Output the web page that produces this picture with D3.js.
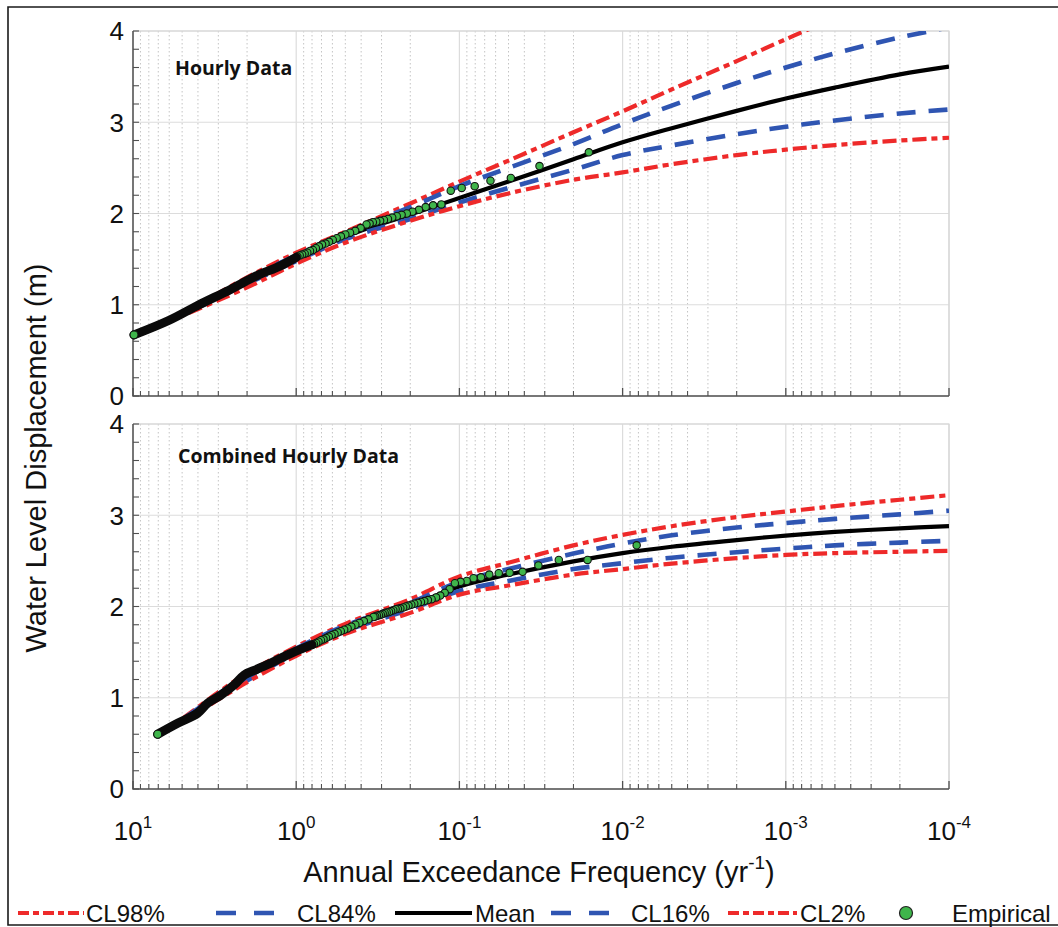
<!DOCTYPE html>
<html>
<head>
<meta charset="utf-8">
<script src="https://cdn.jsdelivr.net/npm/d3@7"></script>
<style>
  body { margin: 0; background: #fff; }
  svg { display: block; }
  text { font-family: "Liberation Sans", Arial, sans-serif; fill: #111; }
</style>
</head>
<body>
<svg id="fig" width="1058" height="927"></svg>
<script>
// ------------------------------------------------------------------
// Fitted return-level curves (annual exceedance frequency, yr^-1 -> m)
// ------------------------------------------------------------------
const topFreq   = [10, 5, 2, 1, 0.5, 0.2, 0.1, 0.05, 0.02, 0.01, 0.005, 0.002, 0.001, 0.0005, 0.0002, 0.0001];
const topMean   = [0.67, 0.90, 1.26, 1.51, 1.75, 1.99, 2.17, 2.35, 2.595, 2.78, 2.935, 3.125, 3.26, 3.38, 3.525, 3.61];
const topCL84   = [0.67, 0.90, 1.28, 1.54, 1.78, 2.07, 2.30, 2.50, 2.76, 2.98, 3.183, 3.43, 3.60, 3.755, 3.93, 4.04];
const topCL16   = [0.67, 0.89, 1.23, 1.48, 1.72, 1.94, 2.12, 2.28, 2.48, 2.64, 2.746, 2.87, 2.95, 3.02, 3.096, 3.14];
const topCL2    = [0.67, 0.88, 1.19, 1.45, 1.68, 1.92, 2.08, 2.22, 2.37, 2.45, 2.54, 2.64, 2.70, 2.75, 2.80, 2.83];
const topCL98Freq = [10, 5, 2, 1, 0.5, 0.2, 0.1, 0.05, 0.02, 0.01, 0.005, 0.002, 0.001, 0.0007];
const topCL98   = [0.67, 0.91, 1.30, 1.57, 1.80, 2.11, 2.35, 2.58, 2.89, 3.12, 3.36, 3.67, 3.91, 4.03];

const botFreq   = [7, 5, 3, 2, 1, 0.5, 0.2, 0.1, 0.05, 0.02, 0.01, 0.005, 0.002, 0.001, 0.0005, 0.0002, 0.0001];
const botMean   = [0.60, 0.75, 1.02, 1.22, 1.51, 1.76, 2.00, 2.22, 2.35, 2.495, 2.585, 2.655, 2.728, 2.777, 2.817, 2.857, 2.88];
const botCL98   = [0.60, 0.77, 1.06, 1.27, 1.56, 1.81, 2.08, 2.33, 2.48, 2.67, 2.785, 2.88, 2.98, 3.04, 3.10, 3.17, 3.22];
const botCL84   = [0.60, 0.76, 1.04, 1.25, 1.54, 1.79, 2.04, 2.27, 2.41, 2.58, 2.69, 2.78, 2.865, 2.915, 2.96, 3.01, 3.05];
const botCL16   = [0.60, 0.74, 1.00, 1.19, 1.49, 1.73, 1.97, 2.17, 2.28, 2.41, 2.475, 2.535, 2.595, 2.635, 2.67, 2.70, 2.72];
const botCL2    = [0.60, 0.73, 0.98, 1.17, 1.46, 1.70, 1.93, 2.13, 2.23, 2.35, 2.41, 2.47, 2.53, 2.565, 2.585, 2.60, 2.61];

// ------------------------------------------------------------------
// Empirical exceedances (individually visible markers)
// ------------------------------------------------------------------
const empTopFreq  = [0.0161, 0.0323, 0.0484, 0.0645, 0.0806, 0.0968, 0.113, 0.129, 0.145, 0.161, 0.177,
                     0.194, 0.210, 0.226, 0.242, 0.258, 0.274, 0.290, 0.306, 0.323, 0.339, 0.355,
                     0.371, 0.403, 0.435, 0.468, 0.5, 0.532, 0.565, 0.597, 0.629, 0.661, 0.694,
                     0.726, 0.758, 0.79, 0.823, 0.855, 0.887, 0.919, 0.952, 0.984];
const empTopLevel = [2.67, 2.52, 2.39, 2.36, 2.30, 2.28, 2.25, 2.10, 2.09, 2.07, 2.04,
                     2.02, 2.00, 1.985, 1.97, 1.955, 1.94, 1.93, 1.92, 1.91, 1.905, 1.89,
                     1.88, 1.84, 1.81, 1.79, 1.77, 1.75, 1.73, 1.71, 1.69, 1.67, 1.66,
                     1.64, 1.62, 1.60, 1.59, 1.57, 1.56, 1.55, 1.54, 1.53];

const empBotFreq  = [0.0082, 0.0164, 0.0246, 0.0328, 0.041, 0.0492, 0.0574, 0.0656, 0.0738, 0.082,
                     0.0902, 0.0984, 0.1066, 0.1148, 0.123, 0.131, 0.139, 0.148, 0.156, 0.164,
                     0.172, 0.180, 0.189, 0.197, 0.205, 0.213, 0.221, 0.230, 0.238, 0.246,
                     0.254, 0.262, 0.270, 0.279, 0.287, 0.295, 0.303, 0.311, 0.320, 0.328,
                     0.336, 0.361, 0.385, 0.41, 0.434, 0.459, 0.484, 0.508, 0.533, 0.557,
                     0.582, 0.607, 0.631, 0.656, 0.68, 0.705, 0.73, 0.754, 0.779, 0.803];
const empBotLevel = [2.67, 2.51, 2.51, 2.45, 2.38, 2.37, 2.365, 2.35, 2.32, 2.31,
                     2.28, 2.27, 2.255, 2.19, 2.15, 2.12, 2.10, 2.08, 2.07, 2.06,
                     2.05, 2.04, 2.03, 2.02, 2.01, 2.00, 1.99, 1.98, 1.975, 1.97,
                     1.96, 1.95, 1.94, 1.935, 1.93, 1.92, 1.91, 1.905, 1.90, 1.89,
                     1.885, 1.86, 1.84, 1.82, 1.80, 1.78, 1.76, 1.745, 1.73, 1.715,
                     1.70, 1.685, 1.67, 1.655, 1.64, 1.63, 1.615, 1.60, 1.59, 1.58];

// Frequent events: markers so tightly packed that their outlines merge
const bandTopFreq  = [1.0, 1.27, 1.69, 2.58, 3.94, 6.0, 9.86];
const bandTopLevel = [1.52, 1.42, 1.33, 1.16, 1.00, 0.83, 0.67];
const bandBotFreq  = [0.80, 0.89, 1.13, 1.43, 1.81, 2.08, 2.40, 2.89, 3.49, 4.02, 5.33, 7.06];
const bandBotLevel = [1.58, 1.55, 1.47, 1.38, 1.30, 1.25, 1.14, 1.03, 0.94, 0.83, 0.72, 0.60];

// Axis ticks
const xMajorTicks = [10, 1, 0.1, 0.01, 0.001, 0.0001];
const xTickExp    = ["1", "0", "-1", "-2", "-3", "-4"];
const yMajorTicks = [0, 1, 2, 3, 4];

const seriesNames = ["CL98%", "CL84%", "Mean", "CL16%", "CL2%", "Empirical"];

// ------------------------------------------------------------------
const RED = "#ee2a2a", BLUE = "#2f55b2", BLACK = "#000", GREEN = "#3fb54b";
const styles = {
  "CL98%": { color: RED,   width: 4.2, dash: "14,5,6,5" },
  "CL84%": { color: BLUE,  width: 4.6, dash: "19,13" },
  "Mean":  { color: BLACK, width: 4.2, dash: null },
  "CL16%": { color: BLUE,  width: 4.6, dash: "19,13" },
  "CL2%":  { color: RED,   width: 4.2, dash: "14,5,6,5" }
};

const svg = d3.select("#fig");
const X0 = 133, X1 = 949;
const x = d3.scaleLog().domain([10, 1e-4]).range([X0, X1]);

// outer frame
svg.append("path")
  .attr("d", "M1058,7 H8 V925 H1058")
  .attr("fill", "none").attr("stroke", "#1a1a1a").attr("stroke-width", 1.6);

const panels = [
  { top: 31, bottom: 396, title: "Hourly Data", tx: 175, ty: 75, showX: false,
    curves: [
      ["CL98%", topCL98Freq, topCL98], ["CL84%", topFreq, topCL84], ["Mean", topFreq, topMean],
      ["CL16%", topFreq, topCL16], ["CL2%", topFreq, topCL2]],
    empF: empTopFreq, empV: empTopLevel, bandF: bandTopFreq, bandV: bandTopLevel },
  { top: 424, bottom: 789, title: "Combined Hourly Data", tx: 178, ty: 463, showX: true,
    curves: [
      ["CL98%", botFreq, botCL98], ["CL84%", botFreq, botCL84], ["Mean", botFreq, botMean],
      ["CL16%", botFreq, botCL16], ["CL2%", botFreq, botCL2]],
    empF: empBotFreq, empV: empBotLevel, bandF: bandBotFreq, bandV: bandBotLevel }
];

const minorX = x.ticks().filter(v => !xMajorTicks.some(m => Math.abs(Math.log10(v) - Math.log10(m)) < 1e-6));
const minorY = d3.range(0, 4.0001, 0.2);

panels.forEach((p, i) => {
  const y = d3.scaleLinear().domain([0, 4]).range([p.bottom, p.top]);
  const g = svg.append("g");

  // clip region
  const clipId = "clip" + i;
  svg.append("clipPath").attr("id", clipId)
    .append("rect").attr("x", X0).attr("y", p.top).attr("width", X1 - X0).attr("height", p.bottom - p.top);

  // grid
  g.append("g").selectAll("line").data(minorX).join("line")
    .attr("x1", d => x(d)).attr("x2", d => x(d)).attr("y1", p.top).attr("y2", p.bottom)
    .attr("stroke", "#c4c4c4").attr("stroke-width", 1).attr("stroke-dasharray", "1.5,2.5");
  g.append("g").selectAll("line").data(xMajorTicks).join("line")
    .attr("x1", d => x(d)).attr("x2", d => x(d)).attr("y1", p.top).attr("y2", p.bottom)
    .attr("stroke", "#dcdcdc").attr("stroke-width", 1.2);
  g.append("g").selectAll("line").data(yMajorTicks).join("line")
    .attr("x1", X0).attr("x2", X1).attr("y1", d => y(d)).attr("y2", d => y(d))
    .attr("stroke", "#dcdcdc").attr("stroke-width", 1.2);

  // box (light top/right, dark left/bottom)
  g.append("path").attr("d", `M${X0},${p.top} H${X1} V${p.bottom}`)
    .attr("fill", "none").attr("stroke", "#d6d6d6").attr("stroke-width", 1.2);
  g.append("path").attr("d", `M${X0},${p.top} V${p.bottom} H${X1}`)
    .attr("fill", "none").attr("stroke", "#505050").attr("stroke-width", 1.5);

  // ticks
  g.append("g").selectAll("line").data(minorY).join("line")
    .attr("x1", X0).attr("x2", X0 + 6).attr("y1", d => y(d)).attr("y2", d => y(d))
    .attr("stroke", "#505050").attr("stroke-width", 1.1);
  g.append("g").selectAll("line").data(minorX).join("line")
    .attr("x1", d => x(d)).attr("x2", d => x(d)).attr("y1", p.bottom).attr("y2", p.bottom - 5)
    .attr("stroke", "#505050").attr("stroke-width", 1.1);
  g.append("g").selectAll("line").data(xMajorTicks).join("line")
    .attr("x1", d => x(d)).attr("x2", d => x(d)).attr("y1", p.bottom).attr("y2", p.bottom - 8)
    .attr("stroke", "#505050").attr("stroke-width", 1.3);

  // y tick labels
  g.append("g").selectAll("text").data(yMajorTicks).join("text")
    .attr("x", X0 - 9).attr("y", d => y(d)).attr("dy", "0.36em")
    .attr("text-anchor", "end").attr("font-size", 26).text(d => d);

  // x tick labels
  if (p.showX) {
    const lab = g.append("g").selectAll("text").data(xMajorTicks).join("text")
      .attr("x", d => x(d)).attr("y", p.bottom + 51)
      .attr("text-anchor", "middle").attr("font-size", 26);
    lab.append("tspan").text("10");
    lab.append("tspan").attr("dy", -12).attr("font-size", 17).text((d, k) => xTickExp[k]);
  }

  // panel title
  g.append("text").attr("x", p.tx).attr("y", p.ty)
    .style("font-family", "'Open Sans', 'Noto Sans', sans-serif").attr("font-weight", 700)
    .attr("font-size", 19.5).text(p.title);

  // fitted curves
  const cg = g.append("g").attr("clip-path", `url(#${clipId})`);
  p.curves.forEach(([name, fs, vs]) => {
    const st = styles[name];
    const line = d3.line().x(d => x(d[0])).y(d => y(d[1])).curve(d3.curveCatmullRom.alpha(0.5));
    cg.append("path").datum(d3.zip(fs, vs))
      .attr("d", line).attr("fill", "none")
      .attr("stroke", st.color).attr("stroke-width", st.width)
      .attr("stroke-dasharray", st.dash);
  });

  // empirical markers (rarest first)
  const eg = g.append("g");
  eg.selectAll("circle").data(d3.zip(p.empF, p.empV)).join("circle")
    .attr("cx", d => x(d[0])).attr("cy", d => y(d[1])).attr("r", 3.7)
    .attr("fill", GREEN).attr("stroke", "#111").attr("stroke-width", 1.1);

  // densely packed markers: merged outlines
  const band = d3.zip(p.bandF, p.bandV);
  eg.append("path").datum(band)
    .attr("d", d3.line().x(d => x(d[0])).y(d => y(d[1])).curve(d3.curveCatmullRom))
    .attr("fill", "none").attr("stroke", "#0a0a0a").attr("stroke-width", 9)
    .attr("stroke-linecap", "round").attr("stroke-linejoin", "round");
  const last = band[band.length - 1];
  eg.append("circle").attr("cx", x(last[0])).attr("cy", y(last[1])).attr("r", 4)
    .attr("fill", GREEN).attr("stroke", "#111").attr("stroke-width", 1.1);
});

// axis titles
svg.append("text")
  .attr("transform", "translate(46,458) rotate(-90)")
  .attr("text-anchor", "middle").attr("font-size", 29)
  .text("Water Level Displacement (m)");

const xt = svg.append("text").attr("x", 539).attr("y", 882)
  .attr("text-anchor", "middle").attr("font-size", 29);
xt.append("tspan").text("Annual Exceedance Frequency (yr");
xt.append("tspan").attr("dy", -13).attr("font-size", 19).text("-1");
xt.append("tspan").attr("dy", 13).text(")");

// legend
const legY = 913;
const legendItems = [
  { name: seriesNames[0], x1: 18,  x2: 84,  tx: 86 },
  { name: seriesNames[1], x1: 216, x2: 274, tx: 297 },
  { name: seriesNames[2], x1: 395, x2: 472, tx: 475 },
  { name: seriesNames[3], x1: 551, x2: 609, tx: 631 },
  { name: seriesNames[4], x1: 728, x2: 797, tx: 800 }
];
const lg = svg.append("g");
legendItems.forEach(it => {
  const st = styles[it.name];
  lg.append("line").attr("x1", it.x1).attr("x2", it.x2).attr("y1", legY).attr("y2", legY)
    .attr("stroke", st.color).attr("stroke-width", st.width)
    .attr("stroke-dasharray", st.color === BLUE ? "20,18" : (st.dash ? "11,4,6,4" : null));
  lg.append("text").attr("x", it.tx).attr("y", legY + 9).attr("font-size", 24).text(it.name);
});
lg.append("circle").attr("cx", 906).attr("cy", legY).attr("r", 6.5)
  .attr("fill", GREEN).attr("stroke", "#222").attr("stroke-width", 1.2);
lg.append("text").attr("x", 952).attr("y", legY + 9).attr("font-size", 24).text(seriesNames[5]);
</script>
</body>
</html>
